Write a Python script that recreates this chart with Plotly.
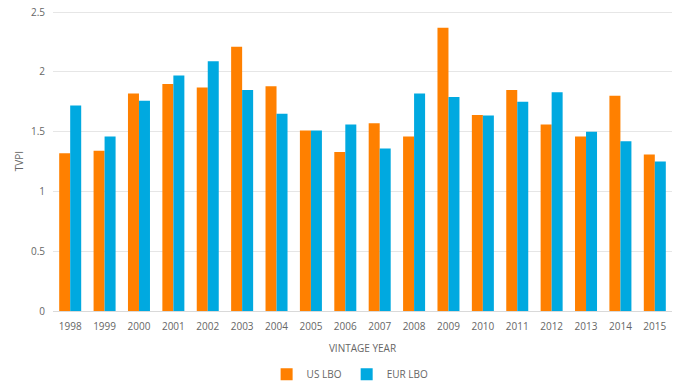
import plotly.graph_objects as go

years = [str(y) for y in range(1998, 2016)]
us_lbo = [1.32, 1.34, 1.82, 1.90, 1.87, 2.21, 1.88, 1.51, 1.33, 1.57, 1.46, 2.37, 1.64, 1.85, 1.56, 1.46, 1.80, 1.31]
eur_lbo = [1.72, 1.46, 1.76, 1.97, 2.09, 1.85, 1.65, 1.51, 1.56, 1.36, 1.82, 1.79, 1.635, 1.75, 1.83, 1.50, 1.42, 1.25]
y_ticks = [0, 0.5, 1, 1.5, 2, 2.5]
y_tick_labels = ["0", "0.5", "1", "1.5", "2", "2.5"]

font_family = "Open Sans, Lato, sans-serif"
grey = "#666666"

fig = go.Figure()
fig.add_trace(go.Bar(name="US LBO", x=years, y=us_lbo, marker_color="#FF8000",
                     marker_line_width=0))
fig.add_trace(go.Bar(name="EUR LBO", x=years, y=eur_lbo, marker_color="#00A9E0",
                     marker_line_width=0))

fig.update_layout(
    width=700, height=385,
    margin=dict(l=53, r=28, t=11, b=74, autoexpand=False),
    paper_bgcolor="white", plot_bgcolor="white",
    barmode="group", bargap=0.36, bargroupgap=0,
    font=dict(family=font_family, size=10, color=grey),
    showlegend=True,
    legend=dict(orientation="h", x=0.48, xanchor="center", y=-0.211, yanchor="middle",
                font=dict(size=10, color=grey), itemwidth=30),
    xaxis=dict(
        automargin=False,
        tickfont=dict(size=10, color=grey),
        title=dict(text="VINTAGE YEAR", font=dict(size=10, color=grey), standoff=12),
        showline=False, ticks="outside", ticklen=6, tickcolor="rgba(0,0,0,0)",
        showgrid=False,
    ),
    yaxis=dict(
        automargin=False,
        range=[0, 2.51], tickvals=y_ticks, ticktext=y_tick_labels,
        tickfont=dict(size=10, color=grey), ticklabeloverflow="allow",
        title=dict(text="TVPI", font=dict(size=10, color=grey), standoff=5),
        gridcolor="#E6E6E6", gridwidth=1,
        zeroline=True, zerolinecolor="#D9D9D9", zerolinewidth=1,
        ticks="outside", ticklen=5, tickcolor="rgba(0,0,0,0)", showline=False,
    ),
)

fig.write_html("out.html", config={"displayModeBar": False},
               post_script="document.body.style.margin='0';")
